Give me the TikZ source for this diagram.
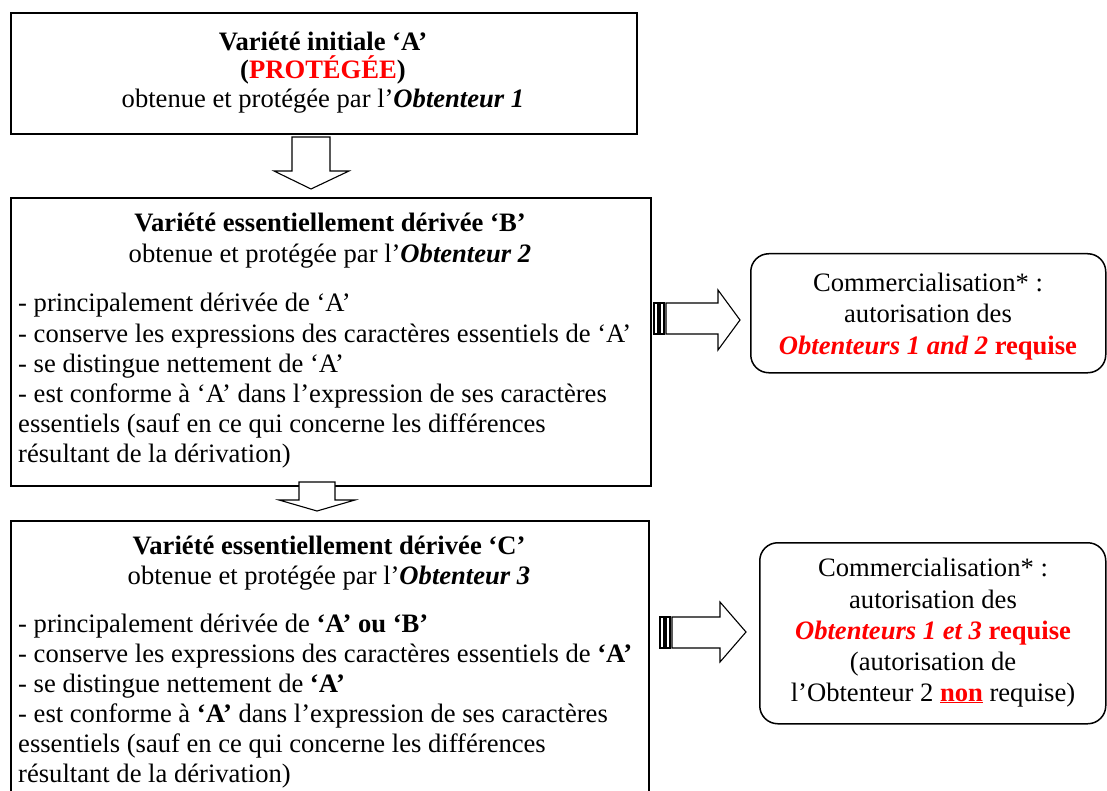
\documentclass[tikz,border=0pt]{standalone}
\usepackage{fontspec}
\setmainfont{Liberation Serif}
\begin{document}
\begin{tikzpicture}[x=1pt,y=-1pt,
  box/.style={draw, line width=1.7pt, inner sep=0pt, anchor=north west},
  rbox/.style={draw, line width=1.5pt, rounded corners=18pt, inner sep=0pt, anchor=north west},
  txt/.style={inner sep=0pt, font=\fontsize{26.6}{30}\selectfont},
  ctxt/.style={txt, anchor=base},
  ltxt/.style={txt, anchor=base west},
  barrow/.style={draw, line width=1.1pt, fill=white, line join=miter}]
\useasboundingbox (0,0) rectangle (1107,791);
\fill[white] (0,0) rectangle (1107,791);

% main boxes
\node[box, minimum width=626pt, minimum height=121pt] (A) at (10,12) {};
\node[box, minimum width=640pt, minimum height=288pt] (B) at (10,197) {};
\node[box, minimum width=638pt, minimum height=290pt] (C) at (10,520) {};

% right boxes
\node[rbox, minimum width=355pt, minimum height=119pt] (R1) at (750,253) {};
\node[rbox, minimum width=346pt, minimum height=181pt] (R2) at (759,542) {};

% box A text
\node[ctxt] (a1) at (323,51) {\textbf{Variété initiale ‘A’}};
\node[ctxt] (a2) at (323,79) {\textbf{(\textcolor{red}{PROTÉGÉE})}};
\node[ctxt] (a3) at (323,108) {obtenue et protégée par l’\textbf{\textit{Obtenteur 1}}};

% box B text
\node[ctxt] (b1) at (330,232) {\textbf{Variété essentiellement dérivée ‘B’}};
\node[ctxt] (b2) at (330,263) {obtenue et protégée par l’\textbf{\textit{Obtenteur 2}}};
\node[ltxt] (b3) at (18,312) {- principalement dérivée de ‘A’};
\node[ltxt] (b4) at (18,342) {- conserve les expressions des caractères essentiels de ‘A’};
\node[ltxt] (b5) at (18,372) {- se distingue nettement de ‘A’};
\node[ltxt] (b6) at (18,402) {- est conforme à ‘A’ dans l’expression de ses caractères};
\node[ltxt] (b7) at (18,432) {essentiels (sauf en ce qui concerne les différences};
\node[ltxt] (b8) at (18,462) {résultant de la dérivation)};

% box C text
\node[ctxt] (c1) at (329,554) {\textbf{Variété essentiellement dérivée ‘C’}};
\node[ctxt] (c2) at (329,584) {obtenue et protégée par l’\textbf{\textit{Obtenteur 3}}};
\node[ltxt] (c3) at (18,632) {- principalement dérivée de \textbf{‘A’ ou ‘B’}};
\node[ltxt] (c4) at (18,662) {- conserve les expressions des caractères essentiels de \textbf{‘A’}};
\node[ltxt] (c5) at (18,692) {- se distingue nettement de \textbf{‘A’}};
\node[ltxt] (c6) at (18,722) {- est conforme à \textbf{‘A’} dans l’expression de ses caractères};
\node[ltxt] (c7) at (18,752) {essentiels (sauf en ce qui concerne les différences};
\node[ltxt] (c8) at (18,782) {résultant de la dérivation)};

% right box 1 text
\node[ctxt] (r11) at (928,291) {Commercialisation* :};
\node[ctxt] (r12) at (928,322) {autorisation des};
\node[ctxt] (r13) at (928,354) {\textcolor{red}{\textbf{\textit{Obtenteurs 1 and 2}} \textbf{requise}}};

% right box 2 text
\node[ctxt] (r21) at (933,576) {Commercialisation* :};
\node[ctxt] (r22) at (933,608) {autorisation des};
\node[ctxt] (r23) at (933,639) {\textcolor{red}{\textbf{\textit{Obtenteurs 1 et 3}} \textbf{requise}}};
\node[ctxt] (r24) at (933,670) {(autorisation de};
\node[ctxt] (r25) at (933,701) {l’Obtenteur 2 \textcolor{red}{\underline{\textbf{non}}} requise)};

% down block arrows
\draw[barrow] (292,137) -- (330,137) -- (330,171) -- (349,171) -- (311,189) -- (274,171) -- (292,171) -- cycle;
\draw[barrow] (299,482) -- (335,482) -- (335,500) -- (355,500) -- (317,511) -- (279,500) -- (299,500) -- cycle;

% striped right arrows
\draw[barrow] (654,303) rectangle (658,334);
\draw[barrow] (660,303) rectangle (664,334);
\draw[barrow] (666,303) -- (718,303) -- (718,290) -- (740,320) -- (718,350) -- (718,334) -- (666,334) -- cycle;

\draw[barrow] (660,617) rectangle (664,648);
\draw[barrow] (666,617) rectangle (670,648);
\draw[barrow] (672,617) -- (720,617) -- (720,602) -- (746,632) -- (720,662) -- (720,648) -- (672,648) -- cycle;
\end{tikzpicture}
\end{document}
